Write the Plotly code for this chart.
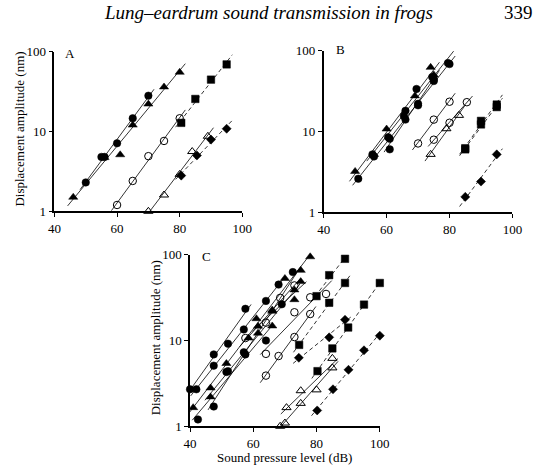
import numpy as np
import plotly.graph_objects as go

W, H = 537, 473

# ---------------- data ----------------
# Panel A
a_circ_x = [50, 55, 56, 60, 65, 70]
a_circ_y = [2.3, 4.8, 4.8, 7.1, 14.6, 28]
a_tri_x = [46, 56, 61, 65, 70, 75, 80]
a_tri_y = [1.5, 4.7, 5.1, 12, 22, 36, 55]
a_ocirc_x = [60, 65, 70, 75, 80]
a_ocirc_y = [1.2, 2.4, 4.9, 7.6, 14.6]
a_sq_x = [80.5, 85, 90, 95]
a_sq_y = [12.8, 25.5, 44.5, 69]
a_otri_x = [70, 75, 80, 84, 89]
a_otri_y = [1.0, 1.6, 2.9, 5.6, 8.7]
a_dia_x = [80.5, 85.5, 90, 95]
a_dia_y = [2.8, 5.0, 7.9, 10.8]

# Panel B
b_tri_x = [50, 56, 60, 69, 74, 75]
b_tri_y = [3.2, 5.2, 10.7, 27.5, 62, 50]
b_c1_x = [51, 56, 61, 66, 70, 75, 80]
b_c1_y = [2.6, 4.9, 8.1, 14, 21, 44, 68]
b_c2_x = [55.5, 60.5, 65.5, 69.5, 74.5, 79.5]
b_c2_y = [5.2, 8.5, 15.5, 33.5, 47, 70]
b_c3_x = [61, 66, 70, 75]
b_c3_y = [6.0, 18, 22, 42]
b_oc1_x = [70, 75, 80]
b_oc1_y = [7.1, 14, 23.3]
b_oc2_x = [75, 80, 85.5]
b_oc2_y = [7.9, 12.8, 23]
b_ot_x = [74, 79, 83]
b_ot_y = [5.2, 10.8, 15.8]
b_sq1_x = [85, 90, 95]
b_sq1_y = [6.2, 13.5, 21.5]
b_sq2_x = [85, 90, 95]
b_sq2_y = [6.0, 12.2, 20]
b_dia_x = [85, 90, 95]
b_dia_y = [1.55, 2.4, 5.2]

# Panel C
c_c1_x = [40, 47.5, 52, 57.5]
c_c1_y = [2.7, 6.9, 9.2, 23.5]
c_c2_x = [42, 47.5, 57, 64, 68]
c_c2_y = [2.7, 5.1, 13.5, 29, 45]
c_c3_x = [42.5, 52, 57, 64]
c_c3_y = [1.2, 4.4, 7.3, 10]
c_c4_x = [47.5, 51.5, 57.5, 69, 72.5]
c_c4_y = [1.7, 4.3, 6.9, 26.5, 63]
c_t1_x = [41, 46.5, 51.5, 61, 66, 70, 75, 78]
c_t1_y = [1.65, 2.8, 5.4, 18, 22.7, 53, 66, 95]
c_t2_x = [46.5, 58.5, 61.5, 66, 73]
c_t2_y = [2.2, 10.7, 12.2, 14.8, 39]
c_t3_x = [61.5, 66, 73, 75]
c_t3_y = [14.7, 22, 30, 48.8]
c_oc1_x = [57.5, 64, 68.5, 73]
c_oc1_y = [10.7, 16.2, 31.5, 44]
c_oc2_x = [64, 73, 78, 83]
c_oc2_y = [7.0, 21.4, 32, 35]
c_oc3_x = [64, 68, 73, 78]
c_oc3_y = [3.9, 6.6, 11, 20.4]
c_ot1_x = [70.5, 75, 80, 85]
c_ot1_y = [1.65, 2.6, 2.66, 6.2]
c_ot2_x = [68.5, 70, 75, 85]
c_ot2_y = [1.0, 1.09, 1.85, 4.8]
c_sq1_x = [80, 84, 89]
c_sq1_y = [33, 58, 90]
c_sq2_x = [74.5, 84, 89]
c_sq2_y = [8.9, 27.6, 47]
c_sq3_x = [80.3, 85, 90, 95, 100]
c_sq3_y = [4.4, 8.1, 14.2, 26.3, 47]
c_d1_x = [74.4, 84, 89]
c_d1_y = [6.3, 10.9, 17.5]
c_d2_x = [80.2, 85.2, 90.1, 95, 100]
c_d2_y = [1.53, 2.7, 4.56, 7.7, 11.4]

x_ticks = [40, 60, 80, 100]
y_ticks = [1, 10, 100]

# ---------------- style ----------------
FONT = "Liberation Serif"
STY = {
    "fc": dict(symbol="circle", size=7.5, color="black", line=dict(color="black", width=0.5)),
    "ft": dict(symbol="triangle-up", size=8, color="black", line=dict(color="black", width=0.5)),
    "oc": dict(symbol="circle-open", size=7.5, color="black", line=dict(color="black", width=1)),
    "ot": dict(symbol="triangle-up-open", size=8, color="black", line=dict(color="black", width=1)),
    "sq": dict(symbol="square", size=7.5, color="black", line=dict(color="black", width=0.5)),
    "di": dict(symbol="diamond", size=7, color="black", line=dict(color="black", width=0.5)),
}

fig = go.Figure()


def add_series(x, y, kind, dashed, ax, pad=1.8):
    xa, ya = ("x", "y") if ax == 1 else ("x%d" % ax, "y%d" % ax)
    x = np.asarray(x, float)
    y = np.asarray(y, float)
    slope, icpt = np.polyfit(x, np.log10(y), 1)
    xs = np.array([x.min() - pad, x.max() + pad])
    ys = 10 ** (icpt + slope * xs)
    fig.add_trace(go.Scatter(
        x=xs, y=ys, mode="lines", xaxis=xa, yaxis=ya, showlegend=False,
        line=dict(color="black", width=0.8, dash="4px,3px" if dashed else "solid"),
        hoverinfo="skip"))
    fig.add_trace(go.Scatter(
        x=x, y=y, mode="markers", xaxis=xa, yaxis=ya, showlegend=False,
        marker=STY[kind], cliponaxis=False))


# A
add_series(a_circ_x, a_circ_y, "fc", False, 1)
add_series(a_tri_x, a_tri_y, "ft", False, 1)
add_series(a_ocirc_x, a_ocirc_y, "oc", False, 1)
add_series(a_sq_x, a_sq_y, "sq", True, 1)
add_series(a_otri_x, a_otri_y, "ot", False, 1)
add_series(a_dia_x, a_dia_y, "di", True, 1)
# B
add_series(b_tri_x, b_tri_y, "ft", False, 2)
add_series(b_c1_x, b_c1_y, "fc", False, 2)
add_series(b_c2_x, b_c2_y, "fc", False, 2)
add_series(b_c3_x, b_c3_y, "fc", False, 2)
add_series(b_oc1_x, b_oc1_y, "oc", False, 2)
add_series(b_oc2_x, b_oc2_y, "oc", False, 2)
add_series(b_ot_x, b_ot_y, "ot", False, 2)
add_series(b_sq1_x, b_sq1_y, "sq", True, 2)
add_series(b_sq2_x, b_sq2_y, "sq", True, 2)
add_series(b_dia_x, b_dia_y, "di", True, 2)
# C
add_series(c_c1_x, c_c1_y, "fc", False, 3)
add_series(c_c2_x, c_c2_y, "fc", False, 3)
add_series(c_c3_x, c_c3_y, "fc", False, 3)
add_series(c_c4_x, c_c4_y, "fc", False, 3)
add_series(c_t1_x, c_t1_y, "ft", False, 3)
add_series(c_t2_x, c_t2_y, "ft", False, 3)
add_series(c_t3_x, c_t3_y, "ft", False, 3)
add_series(c_oc1_x, c_oc1_y, "oc", False, 3)
add_series(c_oc2_x, c_oc2_y, "oc", False, 3)
add_series(c_oc3_x, c_oc3_y, "oc", False, 3)
add_series(c_ot1_x, c_ot1_y, "ot", False, 3)
add_series(c_ot2_x, c_ot2_y, "ot", False, 3)
add_series(c_sq1_x, c_sq1_y, "sq", True, 3)
add_series(c_sq2_x, c_sq2_y, "sq", True, 3)
add_series(c_sq3_x, c_sq3_y, "sq", True, 3)
add_series(c_d1_x, c_d1_y, "di", True, 3)
add_series(c_d2_x, c_d2_y, "di", True, 3)


def px_x(p):
    return p / W


def px_y(p):
    return 1 - p / H


def xdom(l, r):
    return [px_x(l), px_x(r)]


def ydom(t, b):
    return [px_y(b), px_y(t)]


tickfont = dict(family=FONT, size=13, color="black")
axcommon = dict(showline=True, linecolor="black", linewidth=1.5, ticks="outside",
                ticklen=4, tickwidth=1.3, tickcolor="black", showgrid=False,
                zeroline=False, tickfont=tickfont, fixedrange=True)

xcfg = dict(axcommon, range=[40, 100], tickvals=x_ticks, ticktext=[str(t) for t in x_ticks])
ycfg = dict(axcommon, type="log", range=[0, 2], tickvals=y_ticks, ticktext=[str(t) for t in y_ticks])

layout = dict(
    width=W, height=H, autosize=False,
    margin=dict(l=0, r=0, t=0, b=0),
    paper_bgcolor="white", plot_bgcolor="white",
    font=dict(family=FONT, color="black"),
    xaxis=dict(xcfg, domain=xdom(49, 243), anchor="y"),
    yaxis=dict(ycfg, domain=ydom(46, 211), anchor="x"),
    xaxis2=dict(xcfg, domain=xdom(327, 522), anchor="y2"),
    yaxis2=dict(ycfg, domain=ydom(45, 212), anchor="x2"),
    xaxis3=dict(xcfg, domain=xdom(189, 385), anchor="y3"),
    yaxis3=dict(ycfg, domain=ydom(256, 433), anchor="x3"),
)
fig.update_layout(**layout)

ann = []
def txt(x, y, s, size=13, angle=0, xanchor="center", italic=False):
    ann.append(dict(x=px_x(x), y=px_y(y), xref="paper", yref="paper", text=s,
                    showarrow=False, textangle=angle, xanchor=xanchor, yanchor="middle",
                    font=dict(family=FONT, size=size, color="black",
                              style="italic" if italic else "normal")))

txt(270, 6, "Lung–eardrum sound transmission in frogs", size=19, italic=True)
txt(511, 6, "339", size=19, xanchor="left")
txt(65, 48, "A", size=13)
txt(344, 44, "B", size=13)
txt(206, 258, "C", size=13)
txt(12, 126, "Displacement amplitude (nm)", size=13, angle=-90)
txt(153, 342, "Displacement amplitude (nm)", size=13, angle=-90)
txt(287, 465, "Sound pressure level (dB)", size=13)
fig.update_layout(annotations=ann)

fig.write_html("out.html")
